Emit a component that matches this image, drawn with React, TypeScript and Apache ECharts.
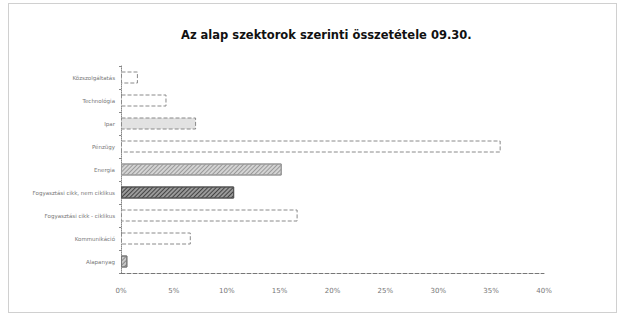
import React, { useEffect, useRef } from "react";
import * as echarts from "echarts";

const categories = [
  "Alapanyag",
  "Kommunikáció",
  "Fogyasztási cikk - ciklikus",
  "Fogyasztási cikk, nem ciklikus",
  "Energia",
  "Pénzügy",
  "Ipar",
  "Technológia",
  "Közszolgáltatás",
];
const values = [0.006, 0.066, 0.167, 0.107, 0.152, 0.359, 0.071, 0.043, 0.016];
const xTicks = [0, 0.05, 0.1, 0.15, 0.2, 0.25, 0.3, 0.35, 0.4];

const hollow = { color: "#ffffff", borderColor: "#8a8a8a", borderWidth: 1, borderType: "dashed" as const };
const barStyles: any[] = [
  { color: "#c8c8c8", borderColor: "#777", borderWidth: 1, decal: { symbol: "rect", dashArrayX: [1, 0], dashArrayY: [1, 2], rotation: -Math.PI / 4, color: "#888" } },
  hollow,
  hollow,
  { color: "#9a9a9a", borderColor: "#555", borderWidth: 1, decal: { symbol: "rect", dashArrayX: [1, 0], dashArrayY: [1, 1.5], rotation: -Math.PI / 4, color: "#444" } },
  { color: "#d4d4d4", borderColor: "#999", borderWidth: 1, decal: { symbol: "rect", dashArrayX: [1, 0], dashArrayY: [1, 2], rotation: -Math.PI / 4, color: "#999" } },
  hollow,
  { color: "#e2e2e2", borderColor: "#888", borderWidth: 1, borderType: "dashed" as const },
  hollow,
  hollow,
];

export default function App() {
  const ref = useRef<HTMLDivElement>(null);
  useEffect(() => {
    if (!ref.current) return;
    const chart = echarts.init(ref.current, undefined, { renderer: "svg" });
    chart.setOption({
      animation: false,
      backgroundColor: "#ffffff",
      title: {
        text: "Az alap szektorok szerinti összetétele 09.30.",
        left: 176,
        top: 24,
        textStyle: { fontFamily: "DejaVu Sans", fontSize: 11.5, fontWeight: "bold", color: "#111" },
      },
      graphic: [
        {
          type: "rect",
          shape: { x: 8.5, y: 3.5, width: 608, height: 309 },
          style: { fill: "none", stroke: "#a0a0a0", lineWidth: 1, lineDash: [1, 1] },
        },
      ],
      grid: { left: 121, right: 79, top: 66, bottom: 43 },
      xAxis: {
        type: "value",
        min: 0,
        max: 0.4,
        interval: 0.05,
        axisLine: { show: true, lineStyle: { color: "#777", type: "dashed" } },
        axisTick: { show: false },
        splitLine: { show: false },
        axisLabel: {
          margin: 14,
          fontSize: 7,
          color: "#777",
          fontFamily: "DejaVu Sans",
          formatter: (v: number) => {
            const i = xTicks.findIndex((t) => Math.abs(t - v) < 1e-9);
            return i >= 0 ? Math.round(xTicks[i] * 100) + "%" : "";
          },
        },
      },
      yAxis: {
        type: "category",
        data: categories,
        axisLine: { show: true, lineStyle: { color: "#888", type: "dotted" } },
        axisTick: { show: true, length: 2, lineStyle: { color: "#888" } },
        axisLabel: { fontSize: 5.5, color: "#777", margin: 6, fontFamily: "DejaVu Sans" },
      },
      series: [
        {
          type: "bar",
          barWidth: 12,
          data: values.map((v, i) => ({ value: v, itemStyle: barStyles[i] })),
        },
      ],
    });
    return () => chart.dispose();
  }, []);
  return (
    <div
      ref={ref}
      style={{ position: "fixed", left: 0, top: 0, width: 623, height: 316 }}
    />
  );
}
